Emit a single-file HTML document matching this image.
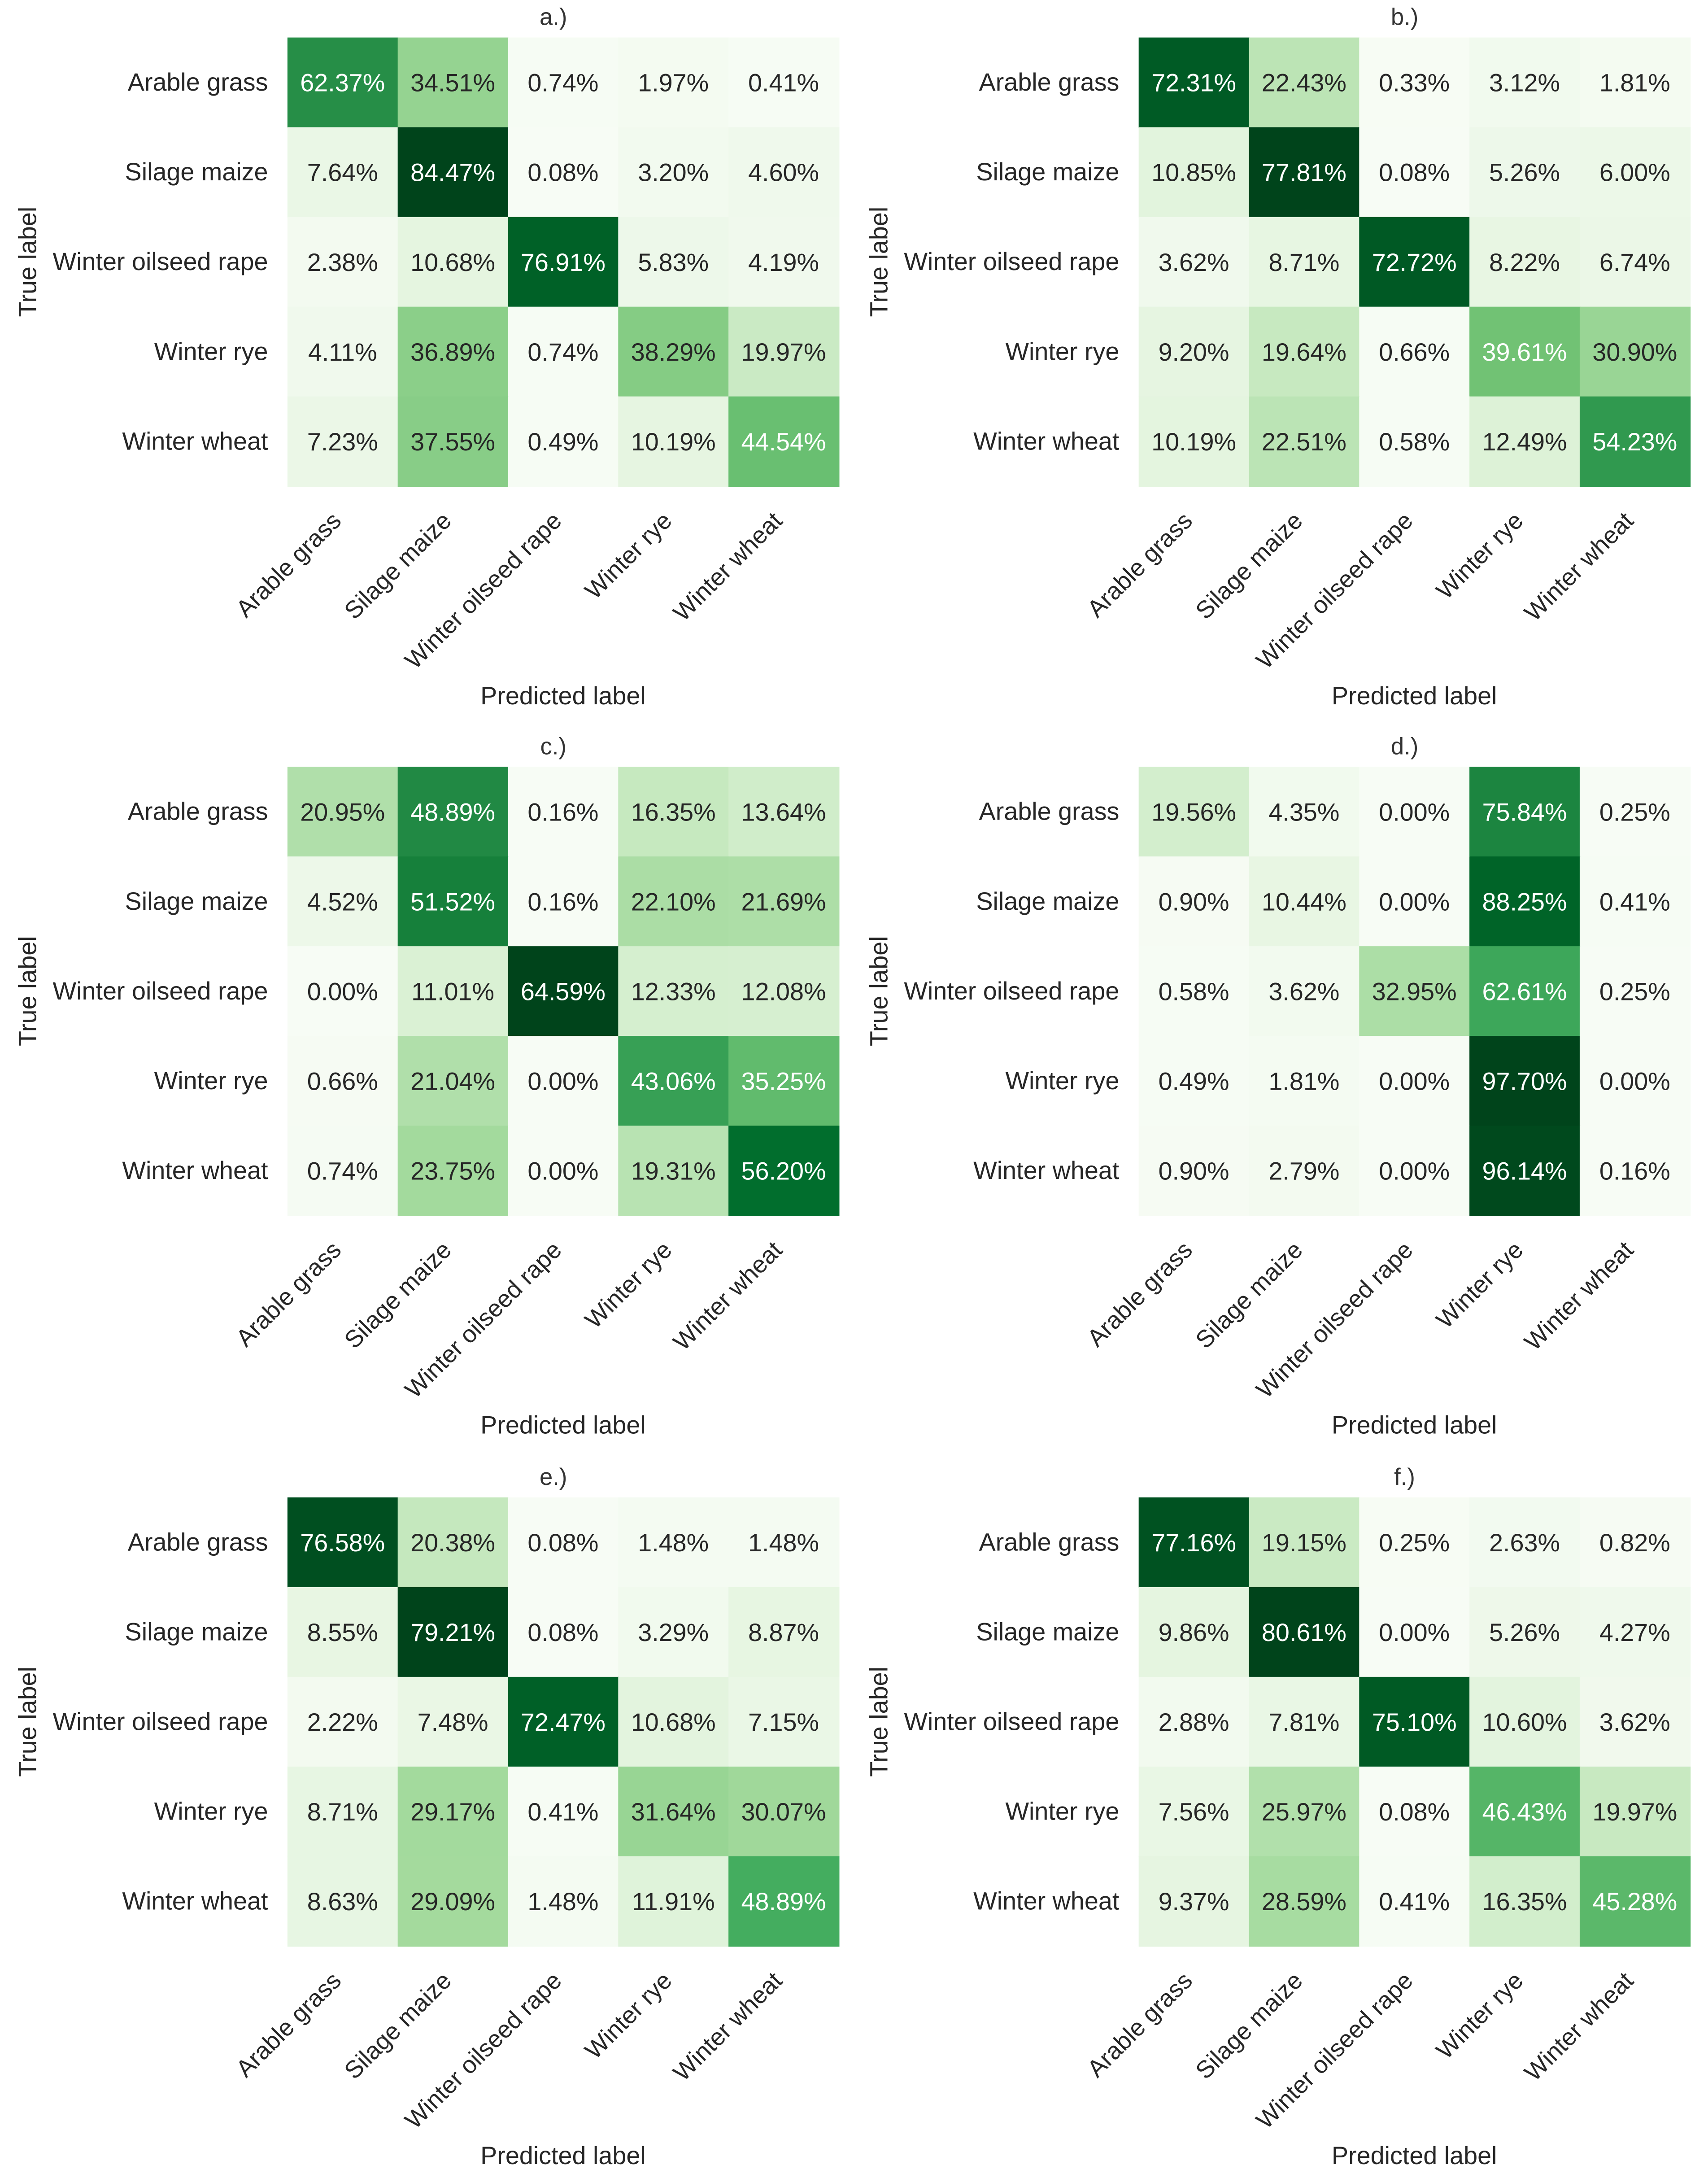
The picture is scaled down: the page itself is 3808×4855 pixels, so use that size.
<!DOCTYPE html>
<html><head><meta charset="utf-8">
<style>
html,body{margin:0;padding:0;background:#fff;}
svg{display:block;}
text{font-family:"Liberation Sans",Arial,sans-serif;}
</style></head>
<body>
<svg id="fig" width="3808" height="4855" viewBox="0 0 1230 1568" preserveAspectRatio="none" xmlns="http://www.w3.org/2000/svg"></svg>
<script>
const categories = ["Arable grass","Silage maize","Winter oilseed rape","Winter rye","Winter wheat"];
const panelTitles = ["a.)","b.)","c.)","d.)","e.)","f.)"];
const valuesA = [[62.37,34.51,0.74,1.97,0.41],[7.64,84.47,0.08,3.20,4.60],[2.38,10.68,76.91,5.83,4.19],[4.11,36.89,0.74,38.29,19.97],[7.23,37.55,0.49,10.19,44.54]];
const valuesB = [[72.31,22.43,0.33,3.12,1.81],[10.85,77.81,0.08,5.26,6.00],[3.62,8.71,72.72,8.22,6.74],[9.20,19.64,0.66,39.61,30.90],[10.19,22.51,0.58,12.49,54.23]];
const valuesC = [[20.95,48.89,0.16,16.35,13.64],[4.52,51.52,0.16,22.10,21.69],[0.00,11.01,64.59,12.33,12.08],[0.66,21.04,0.00,43.06,35.25],[0.74,23.75,0.00,19.31,56.20]];
const valuesD = [[19.56,4.35,0.00,75.84,0.25],[0.90,10.44,0.00,88.25,0.41],[0.58,3.62,32.95,62.61,0.25],[0.49,1.81,0.00,97.70,0.00],[0.90,2.79,0.00,96.14,0.16]];
const valuesE = [[76.58,20.38,0.08,1.48,1.48],[8.55,79.21,0.08,3.29,8.87],[2.22,7.48,72.47,10.68,7.15],[8.71,29.17,0.41,31.64,30.07],[8.63,29.09,1.48,11.91,48.89]];
const valuesF = [[77.16,19.15,0.25,2.63,0.82],[9.86,80.61,0.00,5.26,4.27],[2.88,7.81,75.10,10.60,3.62],[7.56,25.97,0.08,46.43,19.97],[9.37,28.59,0.41,16.35,45.28]];
const allValues = [valuesA,valuesB,valuesC,valuesD,valuesE,valuesF];

const NS="http://www.w3.org/2000/svg";
const svg=document.getElementById('fig');
const greens=[[247,252,245],[229,245,224],[199,233,192],[161,217,155],[116,196,118],[65,171,93],[35,139,69],[0,109,44],[0,68,27]];
function cmap(t){t=Math.max(0,Math.min(1,t))*8;const i=Math.min(7,Math.floor(t)),f=t-i;const a=greens[i],b=greens[i+1];
 return [0,1,2].map(k=>a[k]+(b[k]-a[k])*f);}
function el(tag,attrs,parent){const e=document.createElementNS(NS,tag);for(const k in attrs)e.setAttribute(k,attrs[k]);(parent||svg).appendChild(e);return e;}

const panelX=[207,820], panelY=[27,552,1078];
const W=397, H=323;
allValues.forEach((vals,p)=>{
  const x0=panelX[p%2], y0=panelY[Math.floor(p/2)];
  const g=el('g',{});
  
  
  const flat=vals.flat();const mn=Math.min(...flat),mx=Math.max(...flat);
  const cw=W/categories.length, ch=H/categories.length;
  const xs=j=>x0+j*cw, ys=i=>y0+i*ch;
  vals.forEach((row,i)=>row.forEach((v,j)=>{
    const tn=(v-mn)/(mx-mn);
    const c=cmap(tn);
    const r=el('rect',{x:xs(j),y:ys(i),width:cw+0.5,height:ch+0.5,fill:`rgb(${c.map(Math.round).join(',')})`},g);
    
    
    const t=el('text',{x:xs(j)+cw/2,y:ys(i)+ch/2+6.5,'text-anchor':'middle','font-size':18,fill:tn>0.5?'#ffffff':'#262626'},g);
    t.textContent=v.toFixed(2)+'%';
    
    
  }));
  categories.forEach((cat,i)=>{
    const t=el('text',{x:x0-14,y:ys(i)+ch/2+6,'text-anchor':'end','font-size':18,fill:'#262626'},g);
    t.textContent=cat;
    
    
    const ax=xs(i)+cw/2+0, ay=y0+H+26;
    const u=el('text',{x:ax,y:ay,'text-anchor':'end','font-size':17.5,fill:'#262626',transform:`rotate(-45 ${ax} ${ay})`},g);
    u.textContent=cat;
    
    
  });
  const tt=el('text',{x:x0+W/2-7,y:y0-9,'text-anchor':'middle','font-size':17,fill:'#333'},g);
  tt.textContent=panelTitles[p];
  
  
  const yl=el('text',{x:x0-181,y:y0+H/2,'text-anchor':'middle','font-size':18,fill:'#262626',transform:`rotate(-90 ${x0-181} ${y0+H/2})`},g);
  yl.textContent='True label';
  
  
  const xl=el('text',{x:x0+W/2,y:y0+H+157,'text-anchor':'middle','font-size':18,fill:'#262626'},g);
  xl.textContent='Predicted label';
  
  
});
</script>
</body></html>
